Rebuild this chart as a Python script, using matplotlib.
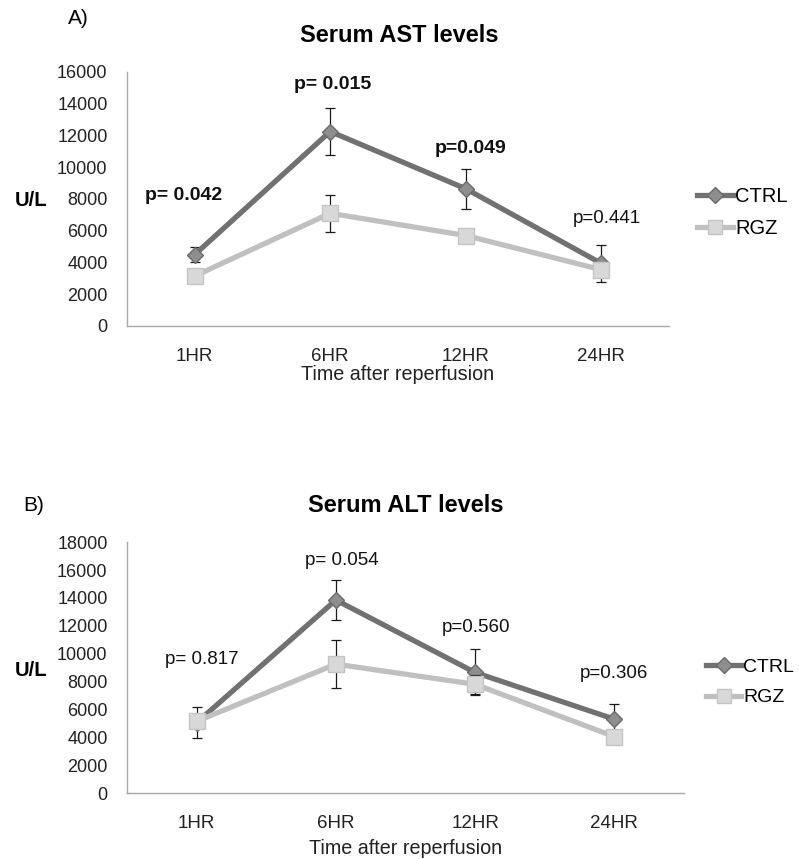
import matplotlib
matplotlib.use("Agg")
import matplotlib.pyplot as plt

plt.rcParams['font.family'] = ['Liberation Sans', 'DejaVu Sans']

# ---- data ----
times = ['1HR', '6HR', '12HR', '24HR']

ast_ctrl = [4500, 12250, 8650, 3950]
ast_ctrl_err = [500, 1450, 1250, 1150]
ast_rgz = [3150, 7100, 5700, 3550]
ast_rgz_err = [300, 1150, 300, 350]
ast_p = ['p= 0.042', 'p= 0.015', 'p=0.049', 'p=0.441']
ast_p_bold = [True, True, True, False]
ast_p_pos = [(-0.08, 8250), (1.02, 15200), (2.04, 11200), (3.04, 6800)]

alt_ctrl = [5050, 13850, 8650, 5300]
alt_ctrl_err = [1100, 1450, 1650, 1100]
alt_rgz = [5150, 9250, 7800, 4050]
alt_rgz_err = [500, 1700, 700, 400]
alt_p = ['p= 0.817', 'p= 0.054', 'p=0.560', 'p=0.306']
alt_p_bold = [False, False, False, False]
alt_p_pos = [(0.04, 9550), (1.04, 16700), (2.01, 11850), (3.0, 8550)]

CTRL_LINE = '#717171'
CTRL_FACE = '#8e8e8e'
RGZ_LINE = '#c0c0c0'
RGZ_FACE = '#d8d8d8'

fig = plt.figure(figsize=(7.99, 8.59), dpi=100)


def panel(rect, ctrl, ctrl_err, rgz, rgz_err, ymax, pvals, pbold, ppos, leg_xy, leg_fs):
    ax = fig.add_axes(rect)
    x = list(range(len(times)))
    ax.errorbar(x, ctrl, yerr=ctrl_err, fmt='none', ecolor='#1a1a1a',
                elinewidth=0.9, capsize=3.5, capthick=0.9, zorder=2)
    ax.plot(x, ctrl, color=CTRL_LINE, lw=3.8, marker='D', ms=8.5,
            mfc=CTRL_FACE, mec='#6a6a6a', mew=1, label='CTRL', zorder=3)
    ax.errorbar(x, rgz, yerr=rgz_err, fmt='none', ecolor='#1a1a1a',
                elinewidth=0.9, capsize=3.5, capthick=0.9, zorder=3.5)
    ax.plot(x, rgz, color=RGZ_LINE, lw=3.8, marker='s', ms=11.5,
            mfc=RGZ_FACE, mec='#c4c4c4', mew=1, label='RGZ', zorder=4)

    for txt, b, (px, py) in zip(pvals, pbold, ppos):
        ax.text(px, py, txt, ha='center', va='center', fontsize=14 if b else 13.5,
                fontweight='bold' if b else 'normal', color='#111111')

    ax.set_xlim(-0.5, len(times) - 0.5)
    ax.set_ylim(0, ymax)
    ax.set_yticks(range(0, ymax + 1, 2000))
    ax.set_xticks(x)
    ax.set_xticklabels(times)
    ax.tick_params(length=0, labelsize=13, colors='#222222')
    ax.tick_params(axis='x', labelsize=13.5, pad=16)
    ax.tick_params(axis='y', pad=14)
    for s in ['top', 'right']:
        ax.spines[s].set_visible(False)
    for s in ['left', 'bottom']:
        ax.spines[s].set_color('#a8a8a8')
        ax.spines[s].set_linewidth(1.0)

    ax.legend(loc='center left', bbox_to_anchor=leg_xy, bbox_transform=fig.transFigure,
              frameon=False, fontsize=leg_fs, handlelength=1.8, handletextpad=0.1,
              labelspacing=0.65, borderpad=0, borderaxespad=0, numpoints=1,
              markerscale=0.9)
    return ax


panel([0.159, 0.6205, 0.678, 0.2957], ast_ctrl, ast_ctrl_err, ast_rgz, ast_rgz_err,
      16000, ast_p, ast_p_bold, ast_p_pos, (0.872, 0.7526), 14.5)
panel([0.159, 0.0768, 0.697, 0.292], alt_ctrl, alt_ctrl_err, alt_rgz, alt_rgz_err,
      18000, alt_p, alt_p_bold, alt_p_pos, (0.884, 0.2055), 14)

# panel labels, titles, axis labels
fig.text(0.0976, 0.979, 'A)', ha='center', va='center', fontsize=15)
fig.text(0.0426, 0.412, 'B)', ha='center', va='center', fontsize=15)
fig.text(0.4994, 0.959, 'Serum AST levels', ha='center', va='center',
         fontsize=17, fontweight='bold')
fig.text(0.508, 0.412, 'Serum ALT levels', ha='center', va='center',
         fontsize=17, fontweight='bold')
fig.text(0.039, 0.767, 'U/L', ha='center', va='center', fontsize=14.5, fontweight='bold')
fig.text(0.039, 0.220, 'U/L', ha='center', va='center', fontsize=14.5, fontweight='bold')
fig.text(0.498, 1 - 375 / 859, 'Time after reperfusion', ha='center', va='center',
         fontsize=14.2, color='#222222')
fig.text(0.507, 1 - 848 / 859, 'Time after reperfusion', ha='center', va='center',
         fontsize=14.2, color='#222222')

fig.savefig('out.png', dpi=100, facecolor='white')
